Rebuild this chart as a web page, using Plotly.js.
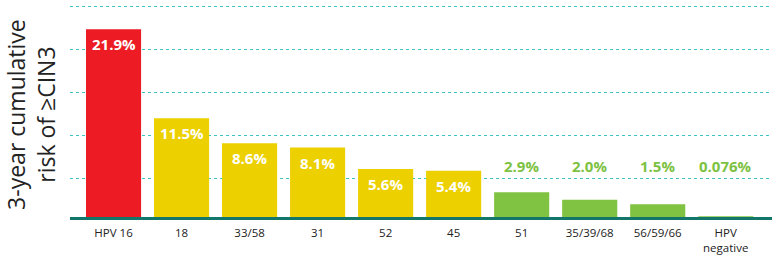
<!DOCTYPE html>
<html>
<head>
<meta charset="utf-8">
<script src="https://cdn.plot.ly/plotly-3.0.1.min.js"></script>
<style>html,body{margin:0;padding:0;background:#fff;}#chart{width:772px;height:257px;}</style>
</head>
<body>
<div id="chart"></div>
<script>
// Data
const categories = ["HPV 16", "18", "33/58", "31", "52", "45", "51", "35/39/68", "56/59/66", "HPV<br>negative"];
const riskPct = [21.9, 11.5, 8.6, 8.1, 5.6, 5.4, 2.9, 2.0, 1.5, 0.076];
const riskLabels = ["21.9%", "11.5%", "8.6%", "8.1%", "5.6%", "5.4%", "2.9%", "2.0%", "1.5%", "0.076%"];
const riskGroup = ["high", "mid", "mid", "mid", "mid", "mid", "low", "low", "low", "low"];

const groupColor = {high: "#ED1C24", mid: "#ECD000", low: "#80C342"};
const xIdx = categories.map((c, i) => i);

const trace = {
  type: "bar",
  x: xIdx,
  y: riskPct,
  width: 0.81,
  marker: {color: riskGroup.map(g => groupColor[g]), line: {width: 0}},
  hoverinfo: "skip"
};

const annotations = [];
riskPct.forEach((v, i) => {
  if (riskGroup[i] === "low") {
    annotations.push({
      x: i, y: 5.95, xref: "x", yref: "y", text: riskLabels[i], showarrow: false,
      xanchor: "center", yanchor: "middle",
      font: {family: "Open Sans, sans-serif", size: 15, color: "#7DC242", weight: "bold"}
    });
  } else {
    annotations.push({
      x: i, y: v, xref: "x", yref: "y", text: riskLabels[i], showarrow: false,
      xanchor: "center", yanchor: "middle", yshift: -15,
      font: {family: "Open Sans, sans-serif", size: 15, color: "#ffffff", weight: "bold"}
    });
  }
});
annotations.push({
  xref: "paper", yref: "paper", x: -0.0556, y: 0.475, xanchor: "center", yanchor: "middle",
  textangle: -90, showarrow: false,
  text: "3-year cumulative<br>risk of ≥CIN3",
  font: {family: "Open Sans, sans-serif", size: 23, color: "#222222"}
});

const layout = {
  width: 772, height: 257,
  margin: {l: 70, r: 0, t: 0, b: 40, pad: 0},
  paper_bgcolor: "#ffffff", plot_bgcolor: "#ffffff",
  showlegend: false,
  bargap: 0.19,
  xaxis: {
    range: [-0.64, 9.68],
    tickmode: "array", tickvals: xIdx, ticktext: categories,
    showgrid: false, zeroline: false,
    showline: true, linecolor: "#12776A", linewidth: 3,
    ticks: "", ticklabelstandoff: 3,
    tickfont: {family: "Open Sans, sans-serif", size: 11.5, color: "#222222"},
    fixedrange: true
  },
  yaxis: {
    range: [0, 25.3],
    tick0: 4.5, dtick: 5,
    showticklabels: false, ticks: "",
    showgrid: true, gridcolor: "#3CC3C3", gridwidth: 1, griddash: "dot",
    zeroline: false, showline: false,
    fixedrange: true
  },
  annotations: annotations
};

Plotly.newPlot("chart", [trace], layout, {displayModeBar: false, staticPlot: true});
</script>
</body>
</html>
